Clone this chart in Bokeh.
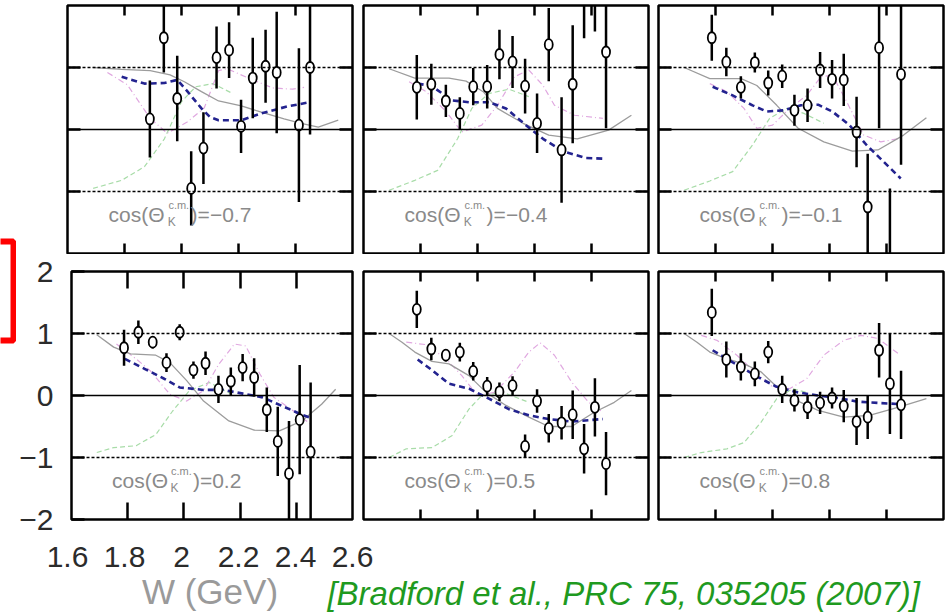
import math
from bokeh.plotting import figure
from bokeh.models import Range1d, LinearAxis, FixedTicker, Span, BoxAnnotation, CustomJSTickFormatter
from bokeh.layouts import row, column
from bokeh.embed import file_html
from bokeh.resources import INLINE
from bokeh.core.properties import value

NAN = float("nan")
NARROW = "'Liberation Sans Narrow', 'Liberation Sans', sans-serif"

# ---------------- data ----------------
W_BINS = [1.787, 1.838, 1.889, 1.938, 1.985, 2.034, 2.077, 2.123,
          2.167, 2.209, 2.250, 2.295, 2.334, 2.374, 2.412, 2.451]

COS_LABELS = ["\u22120.7", "\u22120.4", "\u22120.1", "0.2", "0.5", "0.8"]

X_TICKS_INNER = [1.8, 2.0, 2.2, 2.4]
X_TICK_LABELS = [1.6, 1.8, 2.0, 2.2, 2.4, 2.6]
Y_TICKS_INNER = [-1, 0, 1]
Y_TICK_LABELS = [-2, -1, 0, 1, 2]

# data points (Cx) and errors per panel
cx_1 = [NAN, NAN, 0.17, 1.48, 0.50, -0.95, -0.30, 1.16, 1.28, 0.05, 0.83, 1.02, 0.92, NAN, 0.07, 1.00]
er_1 = [NAN, NAN, 0.62, 0.56, 0.69, 0.60, 0.58, 0.50, 0.45, 0.43, 0.65, 0.59, 0.98, NAN, 1.24, 1.08]

cx_2 = [0.68, 0.73, 0.46, 0.26, 0.69, 0.69, 1.21, 1.09, 0.70, 0.10, 1.37, -0.33, 0.73, 2.50, 2.60, 1.25]
er_2 = [0.52, 0.33, 0.26, 0.26, 0.30, 0.35, 0.40, 0.42, 0.44, 0.48, 0.59, 0.85, 0.95, 1.03, 1.02, 1.23]

cx_3 = [1.48, 1.09, 0.68, 1.08, 0.75, 0.86, 0.31, 0.39, 0.96, 0.81, 0.80, -0.04, -1.25, 1.32, -2.40, 0.89]
er_3 = [0.37, 0.23, 0.18, 0.16, 0.20, 0.19, 0.25, 0.27, 0.29, 0.31, 0.42, 0.57, 0.86, 1.30, 1.45, 1.46]

cx_4 = [0.77, 1.02, 0.86, 0.53, 1.02, 0.41, 0.52, 0.10, 0.23, 0.45, 0.29, -0.23, -0.74, -1.26, -0.39, -0.91]
er_4 = [0.29, 0.19, 0.10, 0.15, 0.13, 0.14, 0.19, 0.22, 0.22, 0.22, 0.31, 0.36, 0.56, 0.85, 0.88, 1.12]

cx_5 = [1.39, 0.75, 0.65, 0.70, 0.39, 0.15, 0.06, 0.16, -0.82, -0.09, -0.53, -0.44, -0.31, -0.86, -0.19, -1.10]
er_5 = [0.30, 0.18, 0.10, 0.15, 0.15, 0.15, 0.15, 0.15, 0.19, 0.19, 0.23, 0.27, 0.39, 0.40, 0.47, 0.51]

cx_6 = [1.34, 0.58, 0.46, 0.35, 0.70, 0.10, -0.08, -0.19, -0.12, -0.04, -0.17, -0.42, -0.35, 0.73, 0.19, -0.15]
er_6 = [0.38, 0.29, 0.22, 0.20, 0.18, 0.22, 0.18, 0.19, 0.18, 0.17, 0.26, 0.38, 0.35, 0.44, 0.81, 0.55]

# model curves: grey (g), blue dashed (b), violet dash-dot (v), green dashed (n)
g1_w = [1.69, 1.79, 1.89, 1.96, 2.01, 2.07, 2.13, 2.21, 2.28, 2.36, 2.42, 2.48, 2.55]
g1_y = [1.00, 0.97, 0.95, 0.88, 0.77, 0.61, 0.46, 0.38, 0.28, 0.17, 0.10, 0.04, 0.15]
b1_w = [1.79, 1.87, 1.94, 1.985, 2.02, 2.07, 2.10, 2.13, 2.21, 2.28, 2.37, 2.45]
b1_y = [0.85, 0.74, 0.75, 0.80, 0.62, 0.34, 0.20, 0.15, 0.15, 0.26, 0.37, 0.44]
v1_w = [1.74, 1.81, 1.89, 1.95, 2.02, 2.08, 2.13, 2.16, 2.25, 2.32, 2.39, 2.43]
v1_y = [0.92, 0.72, 0.18, -0.06, 0.12, 0.35, 0.95, 0.98, 0.80, 0.67, 0.65, 0.68]
n1_w = [1.69, 1.79, 1.87, 1.94, 2.00, 2.05, 2.11, 2.18]
n1_y = [-0.95, -0.82, -0.60, -0.15, 0.45, 0.69, 0.74, 0.58]

g2_w = [1.69, 1.78, 1.90, 1.96, 2.02, 2.07, 2.16, 2.25, 2.35, 2.46, 2.54]
g2_y = [0.98, 0.83, 0.83, 0.78, 0.61, 0.34, 0.10, -0.09, -0.15, -0.01, 0.23]
b2_w = [1.79, 1.84, 1.91, 1.97, 2.04, 2.10, 2.17, 2.23, 2.30, 2.38, 2.44]
b2_y = [0.74, 0.70, 0.47, 0.44, 0.44, 0.34, 0.07, -0.15, -0.35, -0.46, -0.47]
v2_w = [1.76, 1.82, 1.89, 1.945, 2.015, 2.07, 2.13, 2.18, 2.23, 2.27, 2.34, 2.44]
v2_y = [0.77, 0.61, 0.29, -0.04, 0.07, 0.39, 0.85, 0.96, 0.71, 0.39, 0.23, 0.18]
n2_w = [1.69, 1.78, 1.86, 1.93, 1.98, 2.04, 2.11, 2.18]
n2_y = [-0.98, -0.82, -0.66, -0.15, 0.34, 0.58, 0.65, 0.53]

g3_w = [1.69, 1.78, 1.89, 1.945, 2.015, 2.09, 2.18, 2.28, 2.37, 2.46, 2.54]
g3_y = [1.00, 0.82, 0.82, 0.71, 0.39, 0.02, -0.20, -0.35, -0.33, -0.09, 0.19]
b3_w = [1.79, 1.86, 1.93, 1.98, 2.04, 2.10, 2.16, 2.21, 2.27, 2.33, 2.39, 2.45]
b3_y = [0.69, 0.55, 0.39, 0.29, 0.31, 0.39, 0.40, 0.29, 0.07, -0.25, -0.52, -0.79]
v3_w = [1.78, 1.84, 1.90, 1.945, 2.00, 2.06, 2.12, 2.17, 2.21, 2.26, 2.32, 2.38, 2.44]
v3_y = [0.74, 0.61, 0.34, 0.02, 0.07, 0.34, 0.55, 0.85, 0.88, 0.45, -0.09, -0.20, -0.15]
n3_w = [1.69, 1.78, 1.86, 1.93, 1.99, 2.05, 2.11, 2.18]
n3_y = [-0.98, -0.83, -0.68, -0.25, 0.18, 0.34, 0.26, 0.10]

g4_w = [1.69, 1.75, 1.81, 1.90, 1.95, 2.01, 2.07, 2.16, 2.25, 2.34, 2.42, 2.49, 2.54]
g4_y = [0.98, 0.78, 0.67, 0.65, 0.53, 0.24, -0.09, -0.41, -0.56, -0.57, -0.41, -0.14, 0.10]
b4_w = [1.79, 1.86, 1.93, 1.985, 2.07, 2.14, 2.21, 2.28, 2.35, 2.42, 2.45]
b4_y = [0.59, 0.43, 0.27, 0.13, 0.09, 0.09, 0.03, -0.03, -0.17, -0.31, -0.36]
v4_w = [1.76, 1.83, 1.88, 1.95, 2.01, 2.07, 2.125, 2.18, 2.22, 2.27, 2.32, 2.39, 2.45]
v4_y = [0.83, 0.59, 0.40, 0.02, -0.09, 0.08, 0.51, 0.83, 0.80, 0.35, -0.03, -0.25, -0.46]
n4_w = [1.69, 1.75, 1.83, 1.90, 1.96, 2.02, 2.09, 2.17]
n4_y = [-0.92, -0.84, -0.81, -0.63, -0.25, 0.08, 0.21, 0.02]

g5_w = [1.69, 1.735, 1.78, 1.84, 1.90, 1.97, 2.03, 2.10, 2.18, 2.25, 2.33, 2.41, 2.48, 2.54]
g5_y = [1.00, 0.86, 0.70, 0.55, 0.51, 0.32, 0.05, -0.16, -0.35, -0.50, -0.50, -0.27, -0.11, 0.08]
b5_w = [1.79, 1.84, 1.90, 1.97, 2.04, 2.11, 2.18, 2.25, 2.33, 2.44]
b5_y = [0.58, 0.41, 0.19, 0.11, -0.05, -0.22, -0.32, -0.38, -0.42, -0.38]
v5_w = [1.75, 1.82, 1.89, 1.945, 2.00, 2.06, 2.13, 2.18, 2.22, 2.27, 2.33, 2.39, 2.44]
v5_y = [0.86, 0.82, 0.59, 0.32, 0.00, 0.05, 0.38, 0.70, 0.85, 0.65, 0.22, -0.11, -0.27]
n5_w = [1.69, 1.75, 1.84, 1.91, 1.97, 2.015, 2.09, 2.18]
n5_y = [-1.00, -0.86, -0.84, -0.65, -0.22, 0.00, 0.05, -0.11]

g6_w = [1.69, 1.735, 1.78, 1.84, 1.90, 1.96, 2.015, 2.07, 2.16, 2.25, 2.34, 2.44, 2.54]
g6_y = [1.00, 0.86, 0.70, 0.59, 0.51, 0.38, 0.14, -0.05, -0.24, -0.35, -0.32, -0.19, -0.05]
b6_w = [1.79, 1.84, 1.90, 1.96, 2.015, 2.09, 2.16, 2.23, 2.30, 2.37, 2.45]
b6_y = [0.73, 0.59, 0.43, 0.27, 0.14, 0.05, 0.00, -0.04, -0.10, -0.12, -0.14]
v6_w = [1.75, 1.805, 1.875, 1.945, 2.00, 2.06, 2.12, 2.18, 2.25, 2.31, 2.37, 2.44]
v6_y = [0.97, 0.89, 0.65, 0.35, 0.14, 0.11, 0.27, 0.65, 0.89, 0.97, 0.92, 0.68]
n6_w = [1.69, 1.75, 1.84, 1.90, 1.96, 2.015, 2.07, 2.12]
n6_y = [-1.00, -0.92, -0.86, -0.76, -0.43, -0.05, 0.11, 0.05]

PANELS = [
    (cx_1, er_1, [(n1_w, n1_y), (v1_w, v1_y), (g1_w, g1_y), (b1_w, b1_y)]),
    (cx_2, er_2, [(n2_w, n2_y), (v2_w, v2_y), (g2_w, g2_y), (b2_w, b2_y)]),
    (cx_3, er_3, [(n3_w, n3_y), (v3_w, v3_y), (g3_w, g3_y), (b3_w, b3_y)]),
    (cx_4, er_4, [(n4_w, n4_y), (v4_w, v4_y), (g4_w, g4_y), (b4_w, b4_y)]),
    (cx_5, er_5, [(n5_w, n5_y), (v5_w, v5_y), (g5_w, g5_y), (b5_w, b5_y)]),
    (cx_6, er_6, [(n6_w, n6_y), (v6_w, v6_y), (g6_w, g6_y), (b6_w, b6_y)]),
]

CITATION = "[Bradford et al., PRC 75, 035205 (2007)]"
X_LABEL = "W (GeV)"

# ---------------- styles ----------------
CURVE_STYLES = [
    dict(line_color="#a8dca8", line_width=1.2, line_dash="5 3"),      # green dashed
    dict(line_color="#e0a8e0", line_width=1.2, line_dash="6 3 1 3"),  # violet dash-dot
    dict(line_color="#9c9c9c", line_width=1.3),                       # grey solid
    dict(line_color="#23238f", line_width=2.6, line_dash="6 4"),      # blue dashed
]
LABEL_GREY = "#8a8a8a"
TICK_TEXT = "#2b2b2b"
FMT_Y = CustomJSTickFormatter(code="return tick < 0 ? '\\u2212' + Math.abs(tick) : String(tick);")
FMT_X = CustomJSTickFormatter(code="return String(Math.round(tick*10)/10);")


def tick_axis(ticks, tick_len):
    return LinearAxis(ticker=FixedTicker(ticks=ticks, minor_ticks=[]), major_tick_in=tick_len,
                      major_tick_out=0, minor_tick_in=0, minor_tick_out=0,
                      axis_line_color=None, major_tick_line_color="black",
                      major_tick_line_width=2.5, major_label_text_font_size="0px",
                      major_label_text_color=None, major_label_standoff=0)


def make_panel(k, width, height, borders, xtick_len, y_labels=False):
    vals, errs, curves = PANELS[k]
    l, r, t, b = borders
    p = figure(width=width, height=height, x_range=Range1d(1.6, 2.6), y_range=Range1d(-2, 2),
               x_axis_location=None, y_axis_location=None, toolbar_location=None,
               output_backend="svg", min_border_left=l, min_border_right=r,
               min_border_top=t, min_border_bottom=b, background_fill_color="white",
               border_fill_color="white", outline_line_color="black", outline_line_width=2.5)
    p.grid.visible = False

    p.add_layout(tick_axis(X_TICKS_INNER, xtick_len), "above")
    p.add_layout(tick_axis(X_TICKS_INNER, xtick_len), "below")
    p.add_layout(tick_axis(Y_TICKS_INNER, 13), "right")
    if y_labels:
        ax = LinearAxis(ticker=FixedTicker(ticks=Y_TICK_LABELS, minor_ticks=[]), formatter=FMT_Y,
                        major_tick_in=13, major_tick_out=0, minor_tick_in=0, minor_tick_out=0,
                        axis_line_color=None, major_tick_line_color="black", major_tick_line_width=2.5,
                        major_label_standoff=18, major_label_text_font=NARROW,
                        major_label_text_font_size="30px", major_label_text_color=TICK_TEXT)
        p.add_layout(ax, "left")
    else:
        p.add_layout(tick_axis(Y_TICKS_INNER, 13), "left")

    p.add_layout(Span(location=1, dimension="width", line_color="black", line_width=1.5, line_dash="3 2"))
    p.add_layout(Span(location=-1, dimension="width", line_color="black", line_width=1.5, line_dash="3 2"))
    p.add_layout(Span(location=0, dimension="width", line_color="black", line_width=1.5))

    for (cw, cy), st in zip(curves, CURVE_STYLES):
        p.line(cw, cy, **st)

    xs = [w for w, v in zip(W_BINS, vals) if not math.isnan(v)]
    ys = [v for v in vals if not math.isnan(v)]
    es = [e for e in errs if not math.isnan(e)]
    p.segment(x0=xs, y0=[y - e for y, e in zip(ys, es)], x1=xs, y1=[y + e for y, e in zip(ys, es)],
              line_color="black", line_width=2.5)
    p.ellipse(x=xs, y=ys, width=8, height=11, width_units="screen", height_units="screen",
              fill_color="white", line_color="black", line_width=1.8)

    common = dict(text_font=value(NARROW), text_color=LABEL_GREY, text_baseline="middle", text_align="left")
    p.text(x=[1.744], y=[-1.37], text=["cos(\u0398"], text_font_size="21px", **common)
    p.text(x=[1.954], y=[-1.22], text=["c.m."], text_font_size="11px", **common)
    p.text(x=[1.952], y=[-1.49], text=["K"], text_font_size="12px", **common)
    p.text(x=[2.032], y=[-1.37], text=[")=" + COS_LABELS[k]], text_font_size="21px", **common)
    return p


# top row: frames 5..253 ; bottom row: frames 271..519
f1 = make_panel(0, 341, 254, (51, 5, 5, 1), 10)
f2 = make_panel(1, 296, 254, (6, 5, 5, 1), 10)
f3 = make_panel(2, 294, 254, (5, 4, 5, 1), 10)
f4 = make_panel(3, 341, 283, (51, 5, 17, 18), 17, y_labels=True)
f5 = make_panel(4, 296, 283, (6, 5, 17, 18), 10)
f6 = make_panel(5, 294, 283, (5, 4, 17, 18), 10)

# left strip with the red bracket
strip = figure(width=16, height=613, x_range=Range1d(0, 16), y_range=Range1d(613, 0),
               x_axis_location=None, y_axis_location=None, toolbar_location=None,
               output_backend="svg", min_border=0, outline_line_color=None)
strip.grid.visible = False
strip.add_layout(BoxAnnotation(left=-10, right=13, top=241, bottom=340, fill_color=None,
                               line_color="#ff0000", line_alpha=1.0, line_width=6))

# bottom strip: x tick labels aligned with the bottom-left panel, axis title, citation
fb = figure(width=931, height=76, x_range=Range1d(1.6 - 51 / 285, 2.6 + 595 / 285), y_range=Range1d(0, 45),
            x_axis_location=None, y_axis_location=None, toolbar_location=None, output_backend="svg",
            min_border_left=0, min_border_right=0, min_border_top=31, min_border_bottom=0,
            outline_line_color=None)
fb.grid.visible = False
fb.add_layout(LinearAxis(ticker=FixedTicker(ticks=X_TICK_LABELS, minor_ticks=[]), formatter=FMT_X,
                         major_tick_in=0, major_tick_out=0, minor_tick_in=0, minor_tick_out=0,
                         axis_line_color=None, major_tick_line_color=None, major_label_standoff=2,
                         major_label_text_font=NARROW, major_label_text_font_size="30px",
                         major_label_text_color=TICK_TEXT), "above")
fb.text(x=[2.1], y=[22], text=[X_LABEL], text_font=value(NARROW), text_font_size="35px",
        text_color="#9a9a9a", text_align="center", text_baseline="middle")
fb.text(x=[2.512], y=[20.5], text=[CITATION], text_font=value("'Liberation Sans', sans-serif"),
        text_font_size="33px", text_font_style="italic", text_color="#1f9a1f",
        text_align="left", text_baseline="middle")

layout = row(strip, column(row(f1, f2, f3), row(f4, f5, f6), fb))
open("out.html", "w").write(file_html(layout, INLINE))
